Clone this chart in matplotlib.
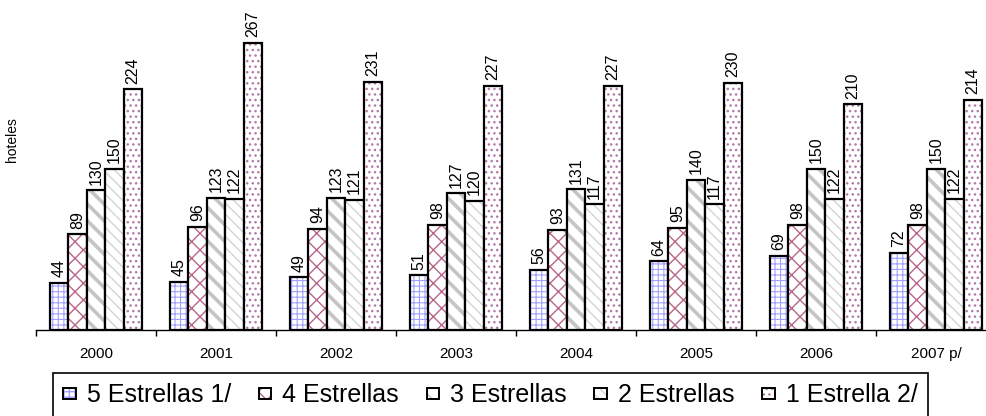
import matplotlib
matplotlib.use('Agg')
import matplotlib.pyplot as plt
from matplotlib.patches import Patch
from numpy import arange

plt.rcParams['font.family'] = ['Liberation Sans', 'DejaVu Sans']
plt.rcParams['hatch.linewidth'] = 1.0

years = ['2000', '2001', '2002', '2003', '2004', '2005', '2006', '2007 p/']
categories = ['5 Estrellas 1/', '4 Estrellas', '3 Estrellas', '2 Estrellas', '1 Estrella 2/']
cinco = [44, 45, 49, 51, 56, 64, 69, 72]
cuatro = [89, 96, 94, 98, 93, 95, 98, 98]
tres = [130, 123, 123, 127, 131, 140, 150, 150]
dos = [150, 122, 121, 120, 117, 117, 122, 122]
una = [224, 267, 231, 227, 227, 230, 210, 214]
series = [cinco, cuatro, tres, dos, una]

hatches = ['+++', 'xx', '\\\\', '\\\\\\', '...']
hatch_colors = ['#a0a0ff', '#b8658a', '#c4c4c4', '#d4d4d4', '#b07aa6']
hatch_widths = [0.8, 1.0, 2.6, 1.0, 1.0]


def hatched(patch, lw):
    # per-artist hatch width only where this matplotlib has it
    if hasattr(patch, 'set_hatch_linewidth'):
        patch.set_hatch_linewidth(lw)
    return patch


fig = plt.figure(figsize=(9.86, 4.16), dpi=100)
ax = fig.add_axes([36 / 986, 86 / 416, 960 / 986, 330 / 416])

x = arange(len(years))
width = 0.154
handles = []
for i, (vals, cat) in enumerate(zip(series, categories)):
    pos = x + (i - 2) * width
    with plt.rc_context({'hatch.linewidth': hatch_widths[i]}):
        fill = ax.bar(pos, vals, width, color='white', edgecolor=hatch_colors[i],
                      hatch=hatches[i], linewidth=0)
        for p in fill:
            hatched(p, hatch_widths[i])
        h = hatched(Patch(facecolor='white', edgecolor=hatch_colors[i], hatch=hatches[i], linewidth=0),
                    min(hatch_widths[i], 1.2))
    outline = ax.bar(pos, vals, width, fill=False, edgecolor='black', linewidth=1.6)
    ax.bar_label(outline, labels=[str(v) for v in vals], rotation=90, padding=4, fontsize=11.5)
    handles.append((h, Patch(fill=False, edgecolor='black', linewidth=1.4)))

ax.set_xlim(-0.5, len(years) - 0.5)
ax.set_ylim(0, 307)
for side in ['top', 'right', 'left']:
    ax.spines[side].set_visible(False)
ax.spines['bottom'].set_linewidth(1.0)
ax.set_yticks([])
ax.set_xticks(arange(len(years) + 1) - 0.5)
ax.set_xticklabels([])
ax.tick_params(axis='x', which='major', length=4, width=1)
ax.set_xticks(x, minor=True)
ax.set_xticklabels(years, minor=True, fontsize=11)
ax.tick_params(axis='x', which='minor', length=0, pad=12)

fig.text(12 / 986, 1 - 140 / 416, 'hoteles', rotation=90, fontsize=10, ha='center', va='center')

leg = fig.legend(handles, categories, ncol=5, loc='upper left',
                 bbox_to_anchor=(53 / 986, 1 - 373 / 416), borderaxespad=0, fontsize=18,
                 frameon=True, fancybox=False, edgecolor='black', framealpha=1,
                 handlelength=0.5, handleheight=0.3, handletextpad=0.45, columnspacing=1.1,
                 borderpad=0.4)
leg.get_frame().set_linewidth(1.2)

fig.savefig('out.png', dpi=100)
